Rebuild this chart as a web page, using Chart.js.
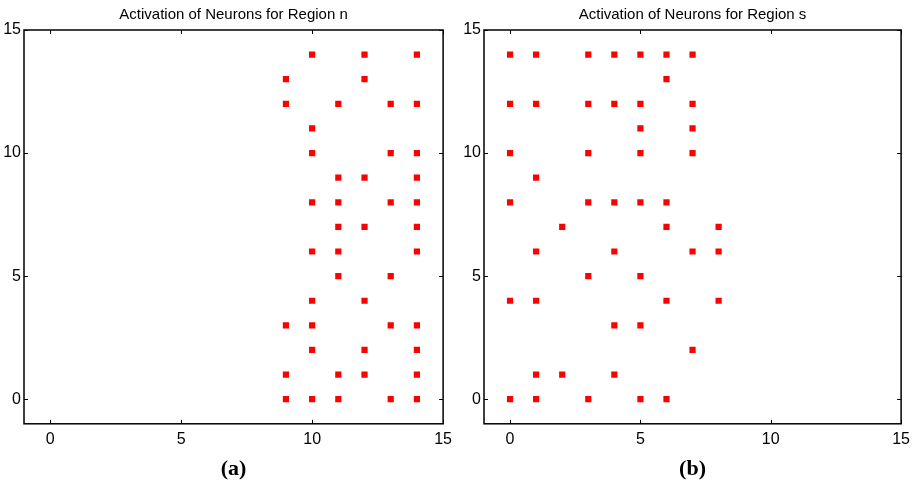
<!DOCTYPE html>
<html>
<head>
<meta charset="utf-8">
<script src="https://cdn.jsdelivr.net/npm/chart.js@4"></script>
<style>
  html, body { margin: 0; padding: 0; background: #fff; }
  .panel { position: absolute; top: 0; height: 487px; }
  #left { left: 0; width: 458px; }
  #right { left: 460px; width: 456px; }
</style>
</head>
<body>
<div class="panel" id="left"><canvas id="chart-n"></canvas></div>
<div class="panel" id="right"><canvas id="chart-s"></canvas></div>
<script>
// active neuron columns for each row (row index = y value 0..14)
const regionNRows = [
  [9, 10, 11, 13, 14],
  [9, 11, 12, 14],
  [10, 12, 14],
  [9, 10, 13, 14],
  [10, 12],
  [11, 13],
  [10, 11, 14],
  [11, 12, 14],
  [10, 11, 13, 14],
  [11, 12, 14],
  [10, 13, 14],
  [10],
  [9, 11, 13, 14],
  [9, 12],
  [10, 12, 14]
];
const regionSRows = [
  [0, 1, 3, 5, 6],
  [1, 2, 4],
  [7],
  [4, 5],
  [0, 1, 6, 8],
  [3, 5],
  [1, 4, 7, 8],
  [2, 6, 8],
  [0, 3, 4, 5, 6],
  [1],
  [0, 3, 5, 7],
  [5, 7],
  [0, 1, 3, 4, 5, 7],
  [6],
  [0, 1, 3, 4, 5, 6, 7]
];
const tickValues = [0, 5, 10, 15];
const titles = ['Activation of Neurons for Region n', 'Activation of Neurons for Region s'];
const captions = ['(a)', '(b)'];

function toPoints(rows) {
  const pts = [];
  rows.forEach((cols, y) => {
    cols.forEach(x => pts.push({ x: x, y: y }));
  });
  return pts;
}

// box around the plot with small inward ticks on all four sides
const boxTicks = {
  id: 'boxTicks',
  afterDraw(chart) {
    const ctx = chart.ctx;
    const a = chart.chartArea;
    const xs = chart.scales.x, ys = chart.scales.y;
    const len = 4;
    ctx.save();
    ctx.strokeStyle = '#000';
    ctx.lineWidth = 1;
    ctx.beginPath();
    tickValues.forEach(v => {
      const px = Math.round(xs.getPixelForValue(v)) + 0.5;
      ctx.moveTo(px, a.bottom); ctx.lineTo(px, a.bottom - len);
      ctx.moveTo(px, a.top); ctx.lineTo(px, a.top + len);
      const py = Math.round(ys.getPixelForValue(v)) + 0.5;
      ctx.moveTo(a.left, py); ctx.lineTo(a.left + len, py);
      ctx.moveTo(a.right, py); ctx.lineTo(a.right - len, py);
    });
    ctx.stroke();
    ctx.lineWidth = 1.5;
    ctx.strokeRect(a.left, a.top, a.right - a.left, a.bottom - a.top);
    ctx.restore();
  }
};

function drawChart(canvas, rows, title, caption) {
  const tickFont = { family: "'Liberation Sans', Arial, sans-serif", size: 16 };
  return new Chart(canvas, {
    type: 'scatter',
    data: {
      datasets: [{
        data: toPoints(rows),
        pointStyle: 'rect',
        pointRadius: 4.4,
        pointHoverRadius: 4.4,
        borderWidth: 0,
        backgroundColor: '#ff0000'
      }]
    },
    options: {
      responsive: true,
      maintainAspectRatio: false,
      animation: false,
      layout: { padding: { left: 0, right: 14, top: 0, bottom: 0 } },
      plugins: {
        legend: { display: false },
        tooltip: { enabled: false },
        title: {
          display: true,
          fullSize: false,
          text: title,
          color: '#000',
          font: { family: "'Liberation Sans', Arial, sans-serif", size: 15, weight: 'normal' },
          padding: { top: 6, bottom: 6 }
        }
      },
      scales: {
        x: {
          type: 'linear',
          min: -1,
          max: 15,
          afterBuildTicks: s => { s.ticks = tickValues.map(v => ({ value: v })); },
          grid: { display: false, drawTicks: false },
          border: { display: false },
          ticks: { color: '#000', font: tickFont, padding: 6, maxRotation: 0 },
          title: {
            display: true,
            text: caption,
            color: '#000',
            font: { family: "'Liberation Serif', 'Times New Roman', serif", size: 22, weight: 'bold' },
            padding: { top: 1.6, bottom: 4 }
          }
        },
        y: {
          type: 'linear',
          min: -1,
          max: 15,
          afterBuildTicks: s => { s.ticks = tickValues.map(v => ({ value: v })); },
          afterFit: s => { s.width = 24; },
          grid: { display: false, drawTicks: false },
          border: { display: false },
          ticks: { color: '#000', font: tickFont, padding: 3 }
        }
      }
    },
    plugins: [boxTicks]
  });
}

const charts = [];
charts.push(drawChart(document.getElementById('chart-n'), regionNRows, titles[0], captions[0]));
charts.push(drawChart(document.getElementById('chart-s'), regionSRows, titles[1], captions[1]));
</script>
</body>
</html>
